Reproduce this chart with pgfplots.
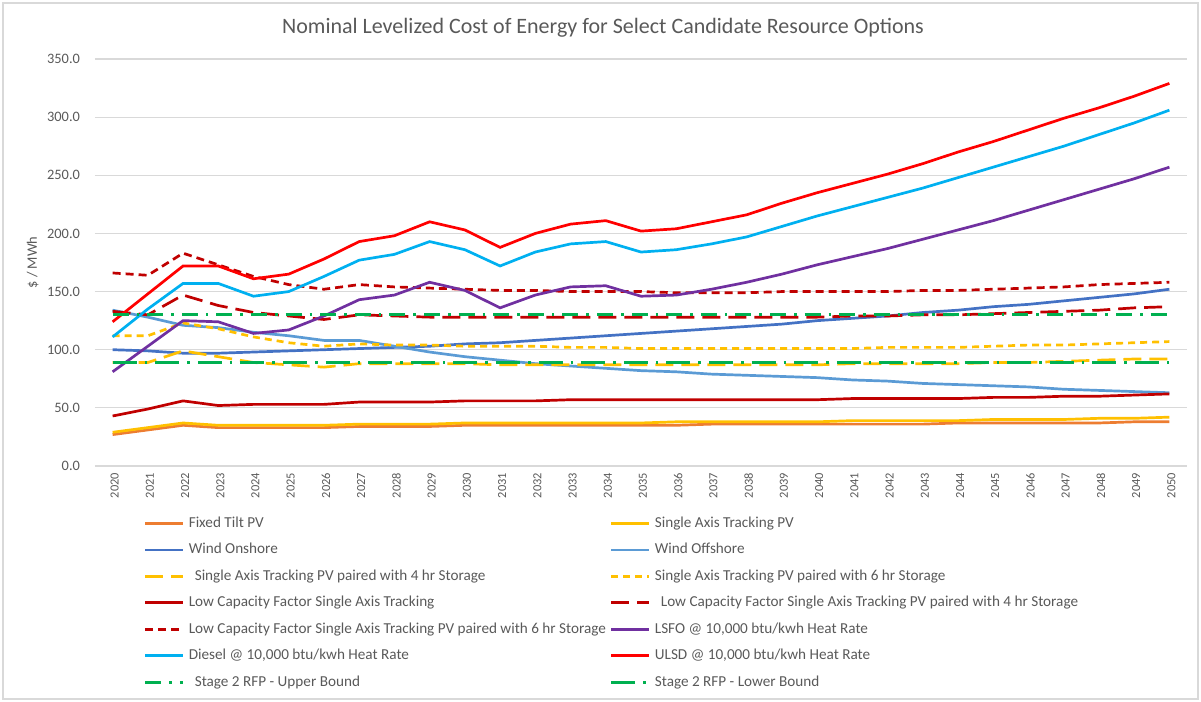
\documentclass[border=0pt]{standalone}
\usepackage{fontspec}
\setmainfont{Carlito}
\usepackage{pgfplots}
\usepackage{pgfplotstable}
\pgfplotsset{compat=1.18}
\definecolor{cFT}{HTML}{ED7D31}
\definecolor{cSAT}{HTML}{FFC000}
\definecolor{cWON}{HTML}{4472C4}
\definecolor{cWOFF}{HTML}{5B9BD5}
\definecolor{cLCF}{HTML}{C00000}
\definecolor{cLSFO}{HTML}{7030A0}
\definecolor{cDSL}{HTML}{00B0F0}
\definecolor{cULSD}{HTML}{FF0000}
\definecolor{cGRN}{HTML}{00B050}
\definecolor{txt}{HTML}{595959}
\definecolor{gridc}{HTML}{D9D9D9}

\pgfplotstableread{
year ftpv satpv won woff sat4 sat6 lcf lcf4 lcf6 lsfo diesel ulsd up low
2020 27 29 100 134 89 112 43 133 166 81 111 124 130 89
2021 31 33 99 128 89 112 49 130 164 103 135 148 130 89
2022 35 37 97 121 99 123 56 147 183 125 157 172 130 89
2023 33 35 97 119 94 118 52 138 173 124 157 172 130 89
2024 33 35 98 115 89 111 53 132 163 114 146 161 130 89
2025 33 35 99 112 87 106 53 129 156 117 150 165 130 89
2026 33 35 100 108 85 103 53 126 152 129 163 178 130 89
2027 34 36 101 108 88 105 55 130 156 143 177 193 130 89
2028 34 36 102 103 88 104 55 129 154 147 182 198 130 89
2029 34 36 103 98 88 104 55 128 153 158 193 210 130 89
2030 35 37 105 94 88 103 56 128 152 151 186 203 130 89
2031 35 37 106 91 87 103 56 128 151 136 172 188 130 89
2032 35 37 108 88 87 103 56 128 151 147 184 200 130 89
2033 35 37 110 86 87 102 57 128 150 154 191 208 130 89
2034 35 37 112 84 87 102 57 128 150 155 193 211 130 89
2035 35 37 114 82 87 101 57 128 150 146 184 202 130 89
2036 35 38 116 81 87 101 57 128 149 147 186 204 130 89
2037 36 38 118 79 87 101 57 128 149 152 191 210 130 89
2038 36 38 120 78 87 101 57 128 149 158 197 216 130 89
2039 36 38 122 77 87 101 57 128 150 165 206 226 130 89
2040 36 38 125 76 87 101 57 128 150 173 215 235 130 89
2041 36 39 127 74 88 101 58 129 150 180 223 243 130 89
2042 36 39 129 73 88 102 58 129 150 187 231 251 130 89
2043 36 39 132 71 88 102 58 130 151 195 239 260 130 89
2044 37 39 134 70 88 102 58 130 151 203 248 270 130 89
2045 37 40 137 69 89 103 59 131 152 211 257 279 130 89
2046 37 40 139 68 89 104 59 132 153 220 266 289 130 89
2047 37 40 142 66 90 104 60 133 154 229 275 299 130 89
2048 37 41 145 65 91 105 60 134 156 238 285 308 130 89
2049 38 41 148 64 92 106 61 136 157 247 295 318 130 89
2050 38 42 152 63 92 107 62 137 158 257 306 329 130 89
}\data

\begin{document}
\begin{tikzpicture}
\path (0pt,0pt) rectangle (600.5pt,351pt);
\draw[gridc, line width=0.6pt] (1.5pt,1.5pt) rectangle (599pt,349.5pt);
\begin{axis}[
  at={(47.5pt,118pt)}, anchor=south west,
  scale only axis, width=546pt, height=203.5pt,
  xmin=2019.5, xmax=2050.5, ymin=0, ymax=350,
  xtick={2020,2021,...,2050}, ytick={0,50,...,350},
  axis line style={draw=none}, major tick length=0pt,
  ymajorgrids, xmajorgrids=false, grid style={draw=gridc, line width=0.6pt},
  tick label style={text=txt},
  /pgf/number format/assume math mode=true,
  xticklabel style={rotate=90, anchor=east, font=\fontsize{6.2}{7}\selectfont, /pgf/number format/1000 sep={}, yshift=-1pt},
  yticklabel style={font=\fontsize{7.2}{8}\selectfont, xshift=-4pt, /pgf/number format/.cd, fixed, fixed zerofill, precision=1, 1000 sep={}},
  ylabel={\$ / MWh}, ylabel style={at={(axis description cs:-0.057,0.5)}, anchor=center, font=\fontsize{7.2}{8}\selectfont, text=txt},
  every axis plot/.append style={line width=1.35pt},
  legend columns=2, legend cell align=left,
  legend image code/.code={\draw[#1, line width=1.4pt] (0pt,0pt) -- (19pt,0pt);},
  legend style={at={(axis description cs:0.039,-0.104)}, anchor=north west, draw=none, fill=none,
    font=\fontsize{7.6}{8}\selectfont, text=txt, row sep=2.45pt,
    /tikz/every even column/.append style={column sep=0pt}},
]
\addplot[cFT] table[x=year,y=ftpv]{\data};
\addlegendentry{Fixed Tilt PV}
\addplot[cSAT] table[x=year,y=satpv]{\data};
\addlegendentry{Single Axis Tracking PV}
\addplot[cWON] table[x=year,y=won]{\data};
\addlegendentry{Wind Onshore}
\addplot[cWOFF] table[x=year,y=woff]{\data};
\addlegendentry{Wind Offshore}
\addplot[cSAT, dash pattern=on 9pt off 4pt] table[x=year,y=sat4]{\data};
\addlegendentry{\hspace{3pt}Single Axis Tracking PV paired with 4 hr Storage}
\addplot[cSAT, dash pattern=on 3.5pt off 2.5pt] table[x=year,y=sat6]{\data};
\addlegendentry{Single Axis Tracking PV paired with 6 hr Storage}
\addplot[cLCF] table[x=year,y=lcf]{\data};
\addlegendentry{Low Capacity Factor Single Axis Tracking}
\addplot[cLCF, dash pattern=on 9pt off 4pt] table[x=year,y=lcf4]{\data};
\addlegendentry{\hspace{3pt}Low Capacity Factor Single Axis Tracking PV paired with 4 hr Storage}
\addplot[cLCF, dash pattern=on 4pt off 2.5pt] table[x=year,y=lcf6]{\data};
\addlegendentry{Low Capacity Factor Single Axis Tracking PV paired with 6 hr Storage}
\addplot[cLSFO] table[x=year,y=lsfo]{\data};
\addlegendentry{LSFO @ 10,000 btu/kwh Heat Rate}
\addplot[cDSL] table[x=year,y=diesel]{\data};
\addlegendentry{Diesel @ 10,000 btu/kwh Heat Rate}
\addplot[cULSD] table[x=year,y=ulsd]{\data};
\addlegendentry{ULSD @ 10,000 btu/kwh Heat Rate}
\addplot[cGRN, dash pattern=on 8pt off 4pt on 1.3pt off 4pt] table[x=year,y=up]{\data};
\addlegendentry{\hspace{3pt}Stage 2 RFP - Upper Bound}
\addplot[cGRN, dash pattern=on 12pt off 4pt on 1.3pt off 4pt] table[x=year,y=low]{\data};
\addlegendentry{Stage 2 RFP - Lower Bound}
\end{axis}
\node[text=txt, font=\fontsize{11}{13}\selectfont] at (301.5pt,337pt) {Nominal Levelized Cost of Energy for Select Candidate Resource Options};
\end{tikzpicture}
\end{document}
